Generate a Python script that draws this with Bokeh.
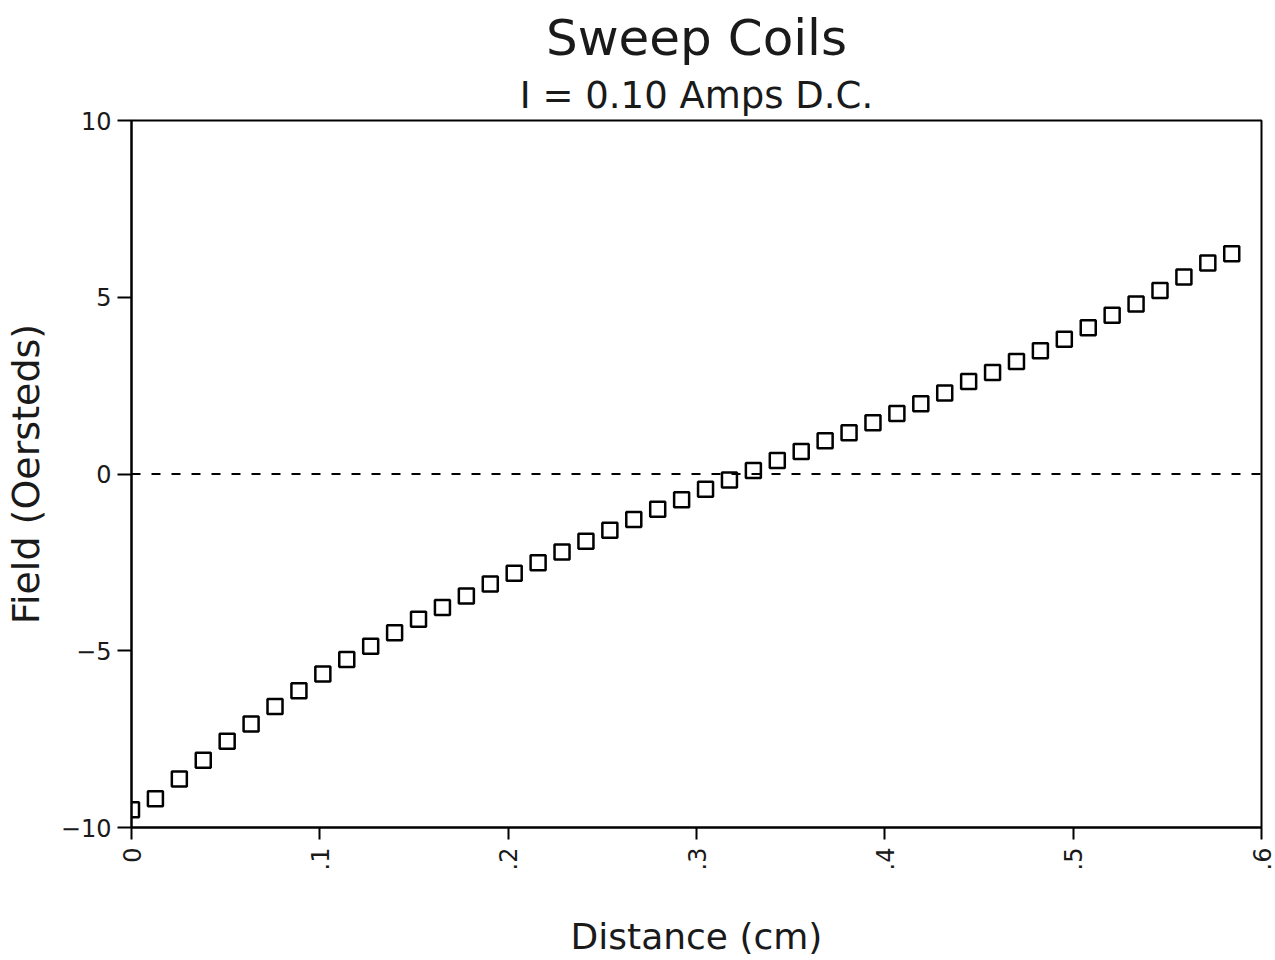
import math
from bokeh.plotting import figure
from bokeh.models import (Range1d, FixedTicker, CustomJSTickFormatter, Span, Title,
                          ColumnDataSource)
from bokeh.embed import file_html
from bokeh.resources import INLINE

# ---- data ----
distance_cm = [0.0000, 0.0127, 0.0254, 0.0381, 0.0508, 0.0635, 0.0762, 0.0889, 0.1016, 0.1143,
               0.1270, 0.1397, 0.1524, 0.1651, 0.1778, 0.1905, 0.2032, 0.2159, 0.2286, 0.2413,
               0.2540, 0.2667, 0.2794, 0.2921, 0.3048, 0.3175, 0.3302, 0.3429, 0.3556, 0.3683,
               0.3810, 0.3937, 0.4064, 0.4191, 0.4318, 0.4445, 0.4572, 0.4699, 0.4826, 0.4953,
               0.5080, 0.5207, 0.5334, 0.5461, 0.5588, 0.5715, 0.5842]
field_oe = [-9.50, -9.19, -8.63, -8.10, -7.56, -7.07, -6.58, -6.13, -5.66, -5.25,
            -4.87, -4.49, -4.11, -3.78, -3.45, -3.11, -2.81, -2.51, -2.21, -1.90,
            -1.59, -1.29, -1.00, -0.73, -0.43, -0.17, 0.10, 0.38, 0.64, 0.94,
            1.17, 1.45, 1.71, 1.99, 2.29, 2.62, 2.87, 3.18, 3.49, 3.81,
            4.14, 4.49, 4.81, 5.19, 5.57, 5.97, 6.23]
x_ticks = [0, 0.1, 0.2, 0.3, 0.4, 0.5, 0.6]
y_ticks = [-10, -5, 0, 5, 10]
title_text = "Sweep Coils"
subtitle_text = "I = 0.10 Amps D.C."
x_label = "Distance (cm)"
y_label = "Field (Oersteds)"

FONT = "DejaVu Sans"
INK = "#1a1a1a"

p = figure(width=1275, height=960, output_backend="svg", toolbar_location=None,
           x_range=Range1d(0, 0.6), y_range=Range1d(-10, 10),
           min_border_left=130, min_border_right=14, min_border_top=120, min_border_bottom=132,
           background_fill_color="white", border_fill_color="white")

p.add_layout(Title(text=subtitle_text, align="center", text_font=FONT, text_font_size="37px",
                   text_font_style="normal", text_color=INK, standoff=7), "above")
p.add_layout(Title(text=title_text, align="center", text_font=FONT, text_font_size="50px",
                   text_font_style="normal", text_color=INK, standoff=4), "above")

p.xgrid.visible = False
p.ygrid.visible = False
p.outline_line_color = "black"
p.outline_line_width = 2
p.outline_line_alpha = 1

src = ColumnDataSource(dict(x=distance_cm, y=field_oe))
p.add_layout(Span(location=0, dimension="width", line_color="black", line_width=2,
                  line_dash="9 11"))
p.scatter("x", "y", source=src, marker="square", size=15, fill_color=None,
          line_color="black", line_width=2.5)

xa = p.xaxis[0]
xa.ticker = FixedTicker(ticks=x_ticks)
xa.formatter = CustomJSTickFormatter(code="""
    if (Math.abs(tick) < 1e-9) return "0";
    return tick.toFixed(1).replace(/^0/, "");
""")
xa.major_label_orientation = math.pi / 2
xa.axis_label = x_label
ya = p.yaxis[0]
ya.ticker = FixedTicker(ticks=y_ticks)
ya.formatter = CustomJSTickFormatter(code="""
    return tick < 0 ? "\u2212" + Math.abs(tick) : String(tick);
""")
ya.axis_label = y_label

for ax in (xa, ya):
    ax.axis_line_color = "black"
    ax.axis_line_width = 2
    ax.major_tick_line_color = "black"
    ax.major_tick_line_width = 2
    ax.major_tick_in = 0
    ax.minor_tick_line_color = None
    ax.major_label_text_font = FONT
    ax.major_label_text_font_size = "24px"
    ax.major_label_text_color = INK
    ax.axis_label_text_font = FONT
    ax.axis_label_text_font_style = "normal"
    ax.axis_label_text_color = INK

xa.axis_label_text_font_size = "36px"
ya.axis_label_text_font_size = "38px"

xa.major_tick_out = 12
xa.major_label_standoff = 8
xa.axis_label_standoff = 43
ya.major_tick_out = 14
ya.major_label_standoff = 6
ya.axis_label_standoff = 10

open("out.html", "w").write(file_html(p, INLINE))
